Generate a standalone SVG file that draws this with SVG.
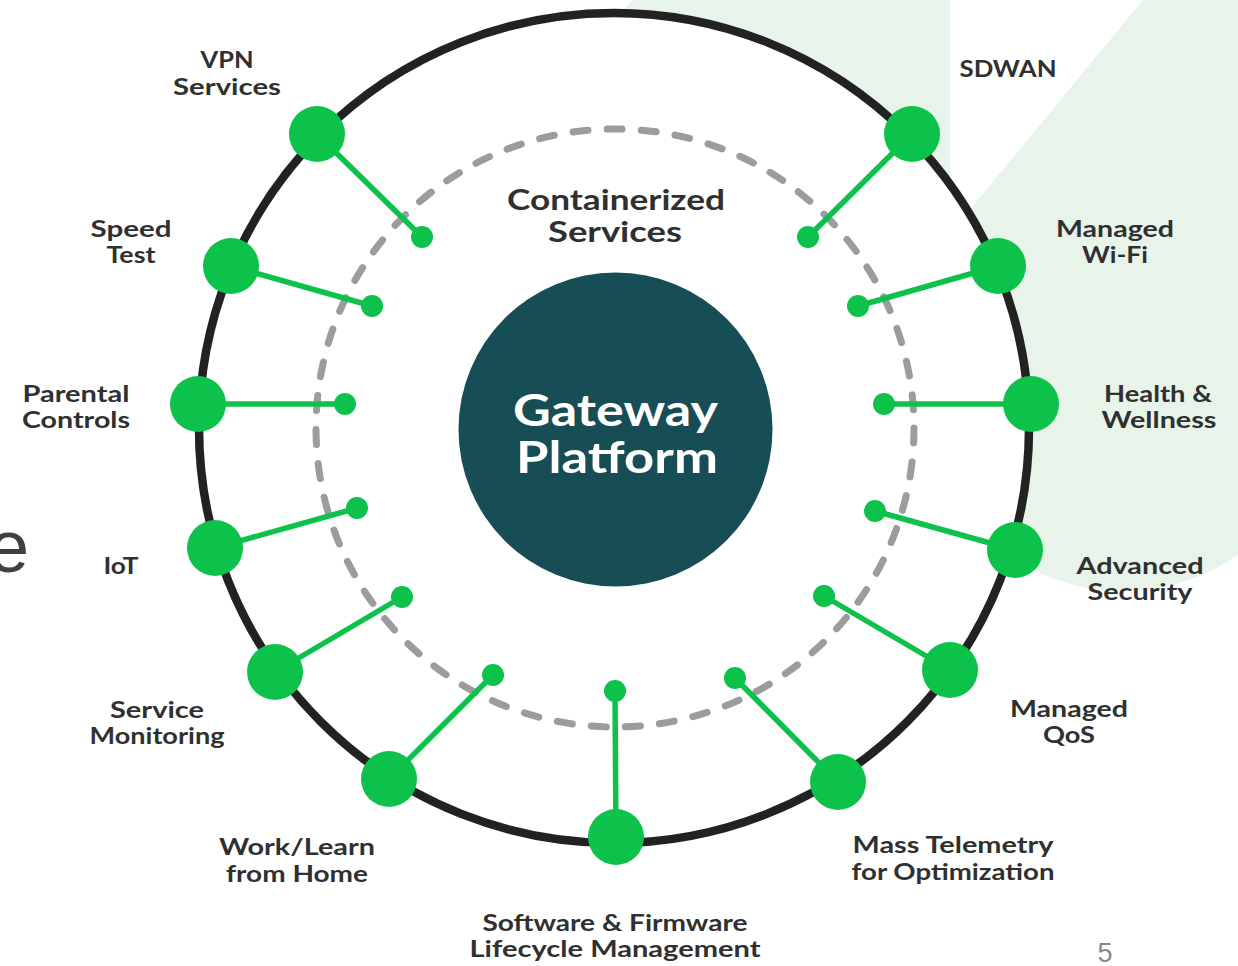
<svg xmlns="http://www.w3.org/2000/svg" width="1238" height="966" viewBox="0 0 1238 966">
  <style>
    .lbl { font-family: Lato, "Open Sans", "Liberation Sans", sans-serif; font-weight: 700; font-size: 23.5px; fill: #303030; text-anchor: middle; }
    .node { fill: #0dc24a; }
    .dot { fill: #0dc24a; }
    .conn { stroke: #0dc24a; stroke-width: 5.5; stroke-linecap: round; }
  </style>
  <rect x="0" y="0" width="1238" height="966" fill="#ffffff"/>
  <!-- background tint -->
  <g id="background">
    <polygon points="633,0 950,0 950,300 560,300 620,14" fill="#e8f4ea"/>
    <path d="M1143,0 L1238,0 L1238,555 A200,200 0 0 1 1030,568 L995,560 L958,224 Z" fill="#e8f4ea"/>
    <text x="-12" y="572" font-family="'Liberation Sans', Arial, sans-serif" font-size="74" fill="#404040">e</text>
    <text x="1105" y="962" font-family="'Liberation Sans', Arial, sans-serif" font-size="27" fill="#8a8a8a" text-anchor="middle">5</text>
  </g>
  <!-- rings -->
  <g id="rings">
    <circle cx="614" cy="428" r="415" fill="#ffffff" stroke="#222222" stroke-width="8.5"/>
    <circle cx="615" cy="428" r="299" fill="none" stroke="#9c9c9c" stroke-width="7" stroke-linecap="round" stroke-dasharray="15 19.16"/>
  </g>
  <g id="containerized">
    <text x="616" y="210" font-family="Lato, 'Open Sans', 'Liberation Sans', sans-serif" font-weight="700" font-size="28" fill="#303030" text-anchor="middle" textLength="218" lengthAdjust="spacingAndGlyphs">Containerized</text>
    <text x="615" y="242" font-family="Lato, 'Open Sans', 'Liberation Sans', sans-serif" font-weight="700" font-size="28" fill="#303030" text-anchor="middle" textLength="134" lengthAdjust="spacingAndGlyphs">Services</text>
  </g>
  <g id="gateway">
    <circle cx="615.5" cy="429.5" r="157" fill="#174d55"/>
    <text x="615.5" y="426" font-family="Lato, 'Open Sans', 'Liberation Sans', sans-serif" font-weight="700" font-size="44" fill="#ffffff" text-anchor="middle" textLength="205" lengthAdjust="spacingAndGlyphs">Gateway</text>
    <text x="617" y="473" font-family="Lato, 'Open Sans', 'Liberation Sans', sans-serif" font-weight="700" font-size="44" fill="#ffffff" text-anchor="middle" textLength="202" lengthAdjust="spacingAndGlyphs">Platform</text>
  </g>
  <!-- connectors -->
  <g id="connectors">
    <line class="conn" x1="317" y1="134" x2="422" y2="237"/>
    <line class="conn" x1="231" y1="266" x2="372" y2="306"/>
    <line class="conn" x1="198" y1="404" x2="345" y2="404"/>
    <line class="conn" x1="215" y1="548" x2="357" y2="508"/>
    <line class="conn" x1="275" y1="672" x2="402" y2="597"/>
    <line class="conn" x1="389" y1="779" x2="493" y2="675"/>
    <line class="conn" x1="616" y1="837" x2="615" y2="691"/>
    <line class="conn" x1="838" y1="782" x2="735" y2="678"/>
    <line class="conn" x1="950" y1="670" x2="824" y2="596"/>
    <line class="conn" x1="1015" y1="550" x2="875" y2="511"/>
    <line class="conn" x1="1031" y1="404" x2="884" y2="404"/>
    <line class="conn" x1="998" y1="266" x2="858" y2="306"/>
    <line class="conn" x1="912" y1="134" x2="808" y2="237"/>
  </g>
  <!-- nodes -->
  <g id="node-vpn">
    <circle class="node" cx="317" cy="134" r="28"/>
    <circle class="dot" cx="422" cy="237" r="11"/>
    <text class="lbl" x="227" y="68" textLength="53" lengthAdjust="spacingAndGlyphs">VPN</text>
    <text class="lbl" x="227" y="95" textLength="108" lengthAdjust="spacingAndGlyphs">Services</text>
  </g>
  <g id="node-speed-test">
    <circle class="node" cx="231" cy="266" r="28"/>
    <circle class="dot" cx="372" cy="306" r="11"/>
    <text class="lbl" x="131" y="237" textLength="81" lengthAdjust="spacingAndGlyphs">Speed</text>
    <text class="lbl" x="131" y="263" textLength="49" lengthAdjust="spacingAndGlyphs">Test</text>
  </g>
  <g id="node-parental-controls">
    <circle class="node" cx="198" cy="404" r="28"/>
    <circle class="dot" cx="345" cy="404" r="11"/>
    <text class="lbl" x="76" y="402" textLength="107" lengthAdjust="spacingAndGlyphs">Parental</text>
    <text class="lbl" x="76" y="428" textLength="108" lengthAdjust="spacingAndGlyphs">Controls</text>
  </g>
  <g id="node-iot">
    <circle class="node" cx="215" cy="548" r="28"/>
    <circle class="dot" cx="357" cy="508" r="11"/>
    <text class="lbl" x="121" y="574" textLength="35" lengthAdjust="spacingAndGlyphs">IoT</text>
  </g>
  <g id="node-service-monitoring">
    <circle class="node" cx="275" cy="672" r="28"/>
    <circle class="dot" cx="402" cy="597" r="11"/>
    <text class="lbl" x="157" y="718" textLength="94" lengthAdjust="spacingAndGlyphs">Service</text>
    <text class="lbl" x="157" y="744" textLength="135" lengthAdjust="spacingAndGlyphs">Monitoring</text>
  </g>
  <g id="node-work-learn">
    <circle class="node" cx="389" cy="779" r="28"/>
    <circle class="dot" cx="493" cy="675" r="11"/>
    <text class="lbl" x="297" y="855" textLength="156" lengthAdjust="spacingAndGlyphs">Work/Learn</text>
    <text class="lbl" x="297" y="882" textLength="142" lengthAdjust="spacingAndGlyphs">from Home</text>
  </g>
  <g id="node-software-firmware">
    <circle class="node" cx="616" cy="837" r="28"/>
    <circle class="dot" cx="615" cy="691" r="11"/>
    <text class="lbl" x="615" y="931" font-size="22.5" textLength="265" lengthAdjust="spacingAndGlyphs">Software &amp; Firmware</text>
    <text class="lbl" x="615" y="957" font-size="22.5" textLength="291" lengthAdjust="spacingAndGlyphs">Lifecycle Management</text>
  </g>
  <g id="node-mass-telemetry">
    <circle class="node" cx="838" cy="782" r="28"/>
    <circle class="dot" cx="735" cy="678" r="11"/>
    <text class="lbl" x="953" y="853" textLength="201" lengthAdjust="spacingAndGlyphs">Mass Telemetry</text>
    <text class="lbl" x="953" y="880" textLength="203" lengthAdjust="spacingAndGlyphs">for Optimization</text>
  </g>
  <g id="node-managed-qos">
    <circle class="node" cx="950" cy="670" r="28"/>
    <circle class="dot" cx="824" cy="596" r="11"/>
    <text class="lbl" x="1069" y="717" textLength="118" lengthAdjust="spacingAndGlyphs">Managed</text>
    <text class="lbl" x="1069" y="743" textLength="52" lengthAdjust="spacingAndGlyphs">QoS</text>
  </g>
  <g id="node-advanced-security">
    <circle class="node" cx="1015" cy="550" r="28"/>
    <circle class="dot" cx="875" cy="511" r="11"/>
    <text class="lbl" x="1140" y="574" textLength="127" lengthAdjust="spacingAndGlyphs">Advanced</text>
    <text class="lbl" x="1140" y="600" textLength="105" lengthAdjust="spacingAndGlyphs">Security</text>
  </g>
  <g id="node-health-wellness">
    <circle class="node" cx="1031" cy="404" r="28"/>
    <circle class="dot" cx="884" cy="404" r="11"/>
    <text class="lbl" x="1158" y="402" textLength="108" lengthAdjust="spacingAndGlyphs">Health &amp;</text>
    <text class="lbl" x="1159" y="428" textLength="115" lengthAdjust="spacingAndGlyphs">Wellness</text>
  </g>
  <g id="node-managed-wifi">
    <circle class="node" cx="998" cy="266" r="28"/>
    <circle class="dot" cx="858" cy="306" r="11"/>
    <text class="lbl" x="1115" y="237" textLength="118" lengthAdjust="spacingAndGlyphs">Managed</text>
    <text class="lbl" x="1115" y="263" textLength="66" lengthAdjust="spacingAndGlyphs">Wi-Fi</text>
  </g>
  <g id="node-sdwan">
    <circle class="node" cx="912" cy="134" r="28"/>
    <circle class="dot" cx="808" cy="237" r="11"/>
    <text class="lbl" x="1008" y="77" textLength="97" lengthAdjust="spacingAndGlyphs">SDWAN</text>
  </g>
</svg>
